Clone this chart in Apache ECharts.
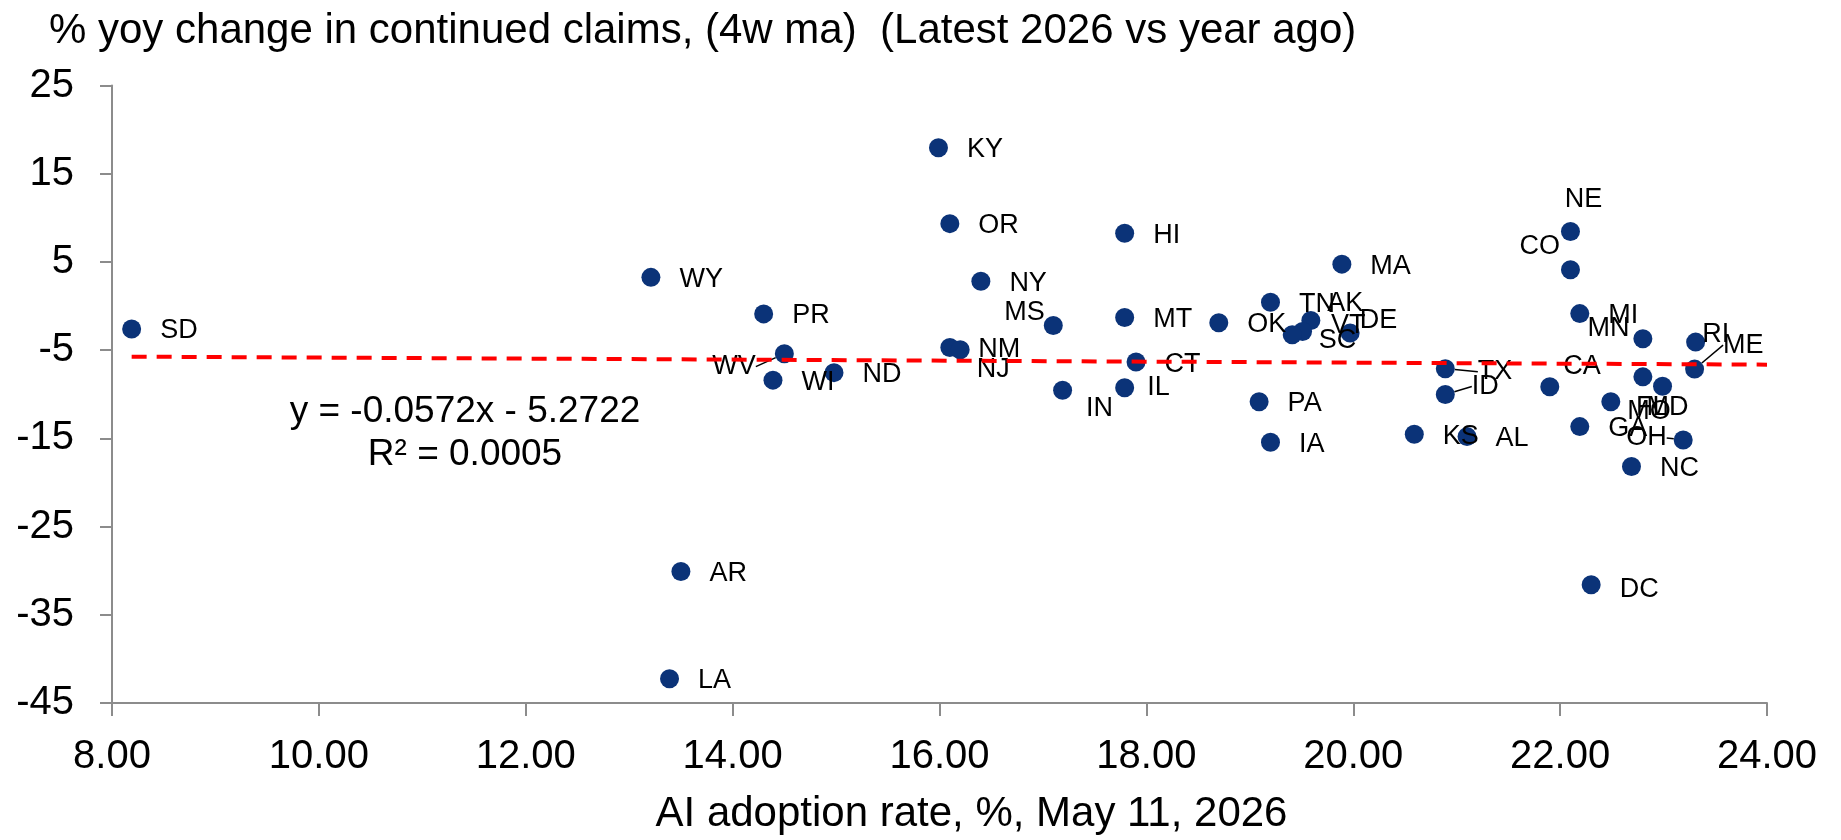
<!DOCTYPE html>
<html>
<head>
<meta charset="utf-8">
<script src="https://cdn.jsdelivr.net/npm/echarts@6/dist/echarts.min.js"></script>
<style>
html,body{margin:0;padding:0;background:#fff;}
#chart{width:1841px;height:840px;}
</style>
</head>
<body>
<div id="chart"></div>
<script>
// ---- data ----
const states = ["SD","WY","PR","WV","WI","ND","AR","LA","KY","OR","NY","NM","NJ","MS","HI","MT","CT","IN","IL","OK","TN","AK","VT","SC","DE","PA","IA","MA","TX","ID","KS","AL","NE","CO","MI","MN","RI","ME","CA","FL","MD","MO","GA","OH","NC","DC"];
const aiAdoption = [8.19,13.21,14.30,14.50,14.39,14.98,13.50,13.39,15.99,16.10,16.40,16.10,16.20,17.10,17.79,17.79,17.90,17.19,17.79,18.70,19.20,19.59,19.51,19.41,19.97,19.09,19.20,19.89,20.89,20.89,20.59,21.10,22.10,22.10,22.19,22.80,23.31,23.30,21.90,22.80,22.99,22.49,22.19,23.19,22.69,22.30];
const claimsYoY = [-2.6,3.25,-0.89,-5.4,-8.4,-7.55,-30.1,-42.26,17.95,9.34,2.8,-4.7,-4.95,-2.2,8.25,-1.3,-6.35,-9.54,-9.27,-1.9,0.43,-1.65,-2.89,-3.26,-3.05,-10.85,-15.45,4.75,-7.1,-10.03,-14.54,-14.8,8.44,4.11,-0.86,-3.71,-4.09,-7.15,-9.16,-8.03,-9.1,-10.85,-13.67,-15.18,-18.19,-31.6];
const xTicks = [8,10,12,14,16,18,20,22,24];
const yTicks = [-45,-35,-25,-15,-5,5,15,25];
const trendSlope = -0.0572;
const trendIntercept = -5.2722;
const trendRange = [8.19, 24];
const equationText = "y = -0.0572x - 5.2722";
const r2Text = "R\u00B2 = 0.0005";

// ---- label placement (layout only): [position, dx, dy] ----
const labelPlacement = {
  WV:['left',0,13], MS:['left',20,-13], NJ:['right',-12,20], IN:['right',-5,18],
  IL:['right',-6,0], AK:['right',-12,-17], DE:['right',-19,-12], VT:['right',0,-6],
  SC:['right',-2,6], NE:['top',13,10], CO:['left',18,-23], MN:['left',15,-10],
  RI:['right',-22,-8], ME:['right',0,-24], CA:['right',-15,-20], TX:['right',4,3],
  ID:['right',-2,-8], MO:['right',-12,10], FL:['bottom',9,-11], MD:['bottom',5,-21],
  OH:['left',12,-2], DC:['right',0,5]
};
const leaderLabels = ['WV','TX','ID','ME','OH'];
const defaultPlacement = ['right',0,2];

const FONT = "'Liberation Sans', Arial, Helvetica, sans-serif";
const scatterData = states.map((s,i)=>{
  const p = labelPlacement[s] || defaultPlacement;
  return {
    name: s,
    value: [aiAdoption[i], claimsYoY[i]],
    label: { position: p[0] },
    labelLine: { show: leaderLabels.indexOf(s) >= 0 }
  };
});
const trendData = trendRange.map(x => [x, trendSlope*x + trendIntercept]);

const chart = echarts.init(document.getElementById('chart'), null, {renderer:'canvas'});
chart.setOption({
  backgroundColor:'#ffffff',
  animation:false,
  title:{
    text:'% yoy change in continued claims, (4w ma)  (Latest 2026 vs year ago)',
    left:44, top:5,
    textStyle:{fontFamily:FONT, fontSize:42, fontWeight:'normal', color:'#000'}
  },
  grid:{left:112, right:74, top:85.5, bottom:134, containLabel:false},
  xAxis:{
    type:'value', min:xTicks[0], max:xTicks[xTicks.length-1], interval:2,
    name:'AI adoption rate, %, May 11, 2026', nameLocation:'middle', nameGap:90,
    nameTextStyle:{fontFamily:FONT, fontSize:42, color:'#000', padding:[0,0,0,64]},
    axisLine:{show:true, onZero:false, lineStyle:{color:'#8c8c8c', width:2}},
    axisTick:{show:true, length:13, lineStyle:{color:'#8c8c8c', width:2}},
    axisLabel:{fontFamily:FONT, fontSize:40, color:'#000', margin:34, formatter:v=>v.toFixed(2)},
    splitLine:{show:false}
  },
  yAxis:{
    type:'value', min:yTicks[0], max:yTicks[yTicks.length-1],
    axisLine:{show:true, onZero:false, lineStyle:{color:'#8c8c8c', width:2}},
    axisTick:{show:true, length:12, inside:false, customValues:yTicks, lineStyle:{color:'#8c8c8c', width:2}},
    axisLabel:{fontFamily:FONT, fontSize:40, color:'#000', margin:38, customValues:yTicks},
    splitLine:{show:false}
  },
  series:[
    {
      type:'scatter', data:scatterData, symbolSize:19,
      itemStyle:{color:'#0B3378', opacity:1},
      label:{show:true, formatter:'{b}', distance:19, fontFamily:FONT, fontSize:27, color:'#000'},
      labelLine:{show:false, lineStyle:{color:'#000', width:1.5}},
      labelLayout:function(params){
        const p = labelPlacement[states[params.dataIndex]] || defaultPlacement;
        return {dx:p[1], dy:p[2]};
      },
      emphasis:{disabled:true}, z:2
    },
    {
      type:'line', data:trendData, showSymbol:false, symbol:'none',
      lineStyle:{color:'#ff0000', width:4, type:[15,10]},
      emphasis:{disabled:true}, z:3, silent:true
    }
  ],
  graphic:[
    {type:'text', x:465, y:412, style:{text:equationText, fontFamily:FONT, fontSize:37, fill:'#000', align:'center', verticalAlign:'middle'}},
    {type:'text', x:465, y:455, style:{text:r2Text, fontFamily:FONT, fontSize:37, fill:'#000', align:'center', verticalAlign:'middle'}}
  ]
});
</script>
</body>
</html>
